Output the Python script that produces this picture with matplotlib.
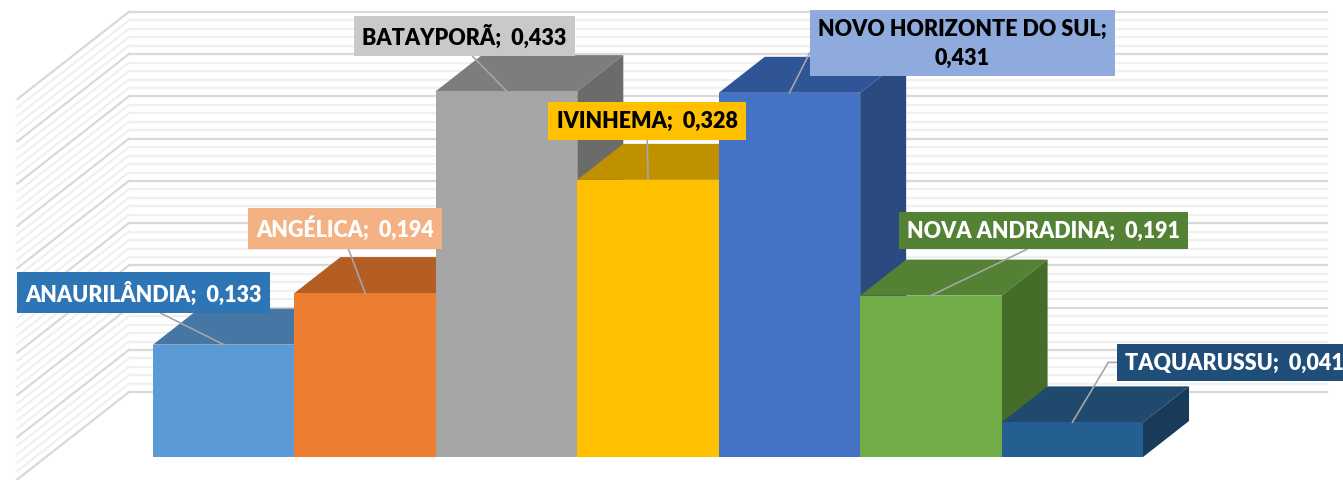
import numpy as np
import matplotlib.pyplot as plt
from matplotlib.patches import Polygon

# dados
cidades = ['ANAURILÂNDIA', 'ANGÉLICA', 'BATAYPORÃ', 'IVINHEMA',
           'NOVO HORIZONTE DO SUL', 'NOVA ANDRADINA', 'TAQUARUSSU']
valores = [0.133, 0.194, 0.433, 0.328, 0.431, 0.191, 0.041]

# cores: frente, topo, lateral
cor_frente = ['#5B9BD5', '#ED7D31', '#A5A5A5', '#FFC000', '#4472C4', '#70AD47', '#255E91']
cor_topo = ['#4676A3', '#B55E23', '#7D7D7D', '#BF9000', '#2F5597', '#548235', '#1F4A6E']
cor_lado = ['#3E6890', '#A0521E', '#6B6B6B', '#A67D00', '#2B4A80', '#466C2A', '#183B5A']
cor_caixa = ['#2E75B6', '#F4B183', '#C9C9C9', '#FFC000', '#8FAADC', '#548235', '#1F4E79']
cor_texto = ['white', 'white', 'black', 'black', 'black', 'white', 'white']

# posicao das caixas de rotulo (pixels a partir do topo da barra)
rot_dx = [-80, -20, -42, -1, 173, 113, 162]
rot_dy = [52, 65, 55, 59, 50, 65, 60]

plt.rcParams['font.family'] = ['Lato', 'DejaVu Sans']

W, H = 1343, 481
fig = plt.figure(figsize=(W / 100, H / 100), dpi=100)
ax = fig.add_axes([0, 0, 1, 1])
ax.axis('off')
xmin, xmax = -1.582, 7.914
ymin, ymax = -0.0272, 0.542
ax.set_xlim(xmin, xmax)
ax.set_ylim(ymin, ymax)

sx = W / (xmax - xmin)
sy = H / (ymax - ymin)
# vetor de profundidade (obliquo)
DX = 46 / sx
DY = 36 / sy

# paredes com grade
XL, XR = -1.257, 7.214
kw, kf = 1.8, -0.62
for v in np.arange(0, 0.4501, 0.01):
    major = round(v * 100) % 5 == 0
    c = '#D9D9D9' if major else '#F0F0F0'
    ax.plot([XL + kw * DX, XR + kw * DX], [v + kw * DY] * 2, color=c, lw=1.6, zorder=2 if major else 1)
    ax.plot([XL + kf * DX, XL + kw * DX], [v + kf * DY, v + kw * DY], color=c, lw=1.6,
            zorder=2 if major else 1)

x = np.arange(len(valores))
barras = ax.bar(x, valores, width=1.0, color=cor_frente, linewidth=0)
for i, (b, v) in enumerate(zip(barras, valores)):
    x0, x1 = i - 0.5, i + 0.5
    z = 10 + 3 * i
    topo = Polygon([(x0, v), (x1, v), (x1 + DX, v + DY), (x0 + DX, v + DY)],
                   closed=True, facecolor=cor_topo[i], edgecolor='none', zorder=z)
    lado = Polygon([(x1, 0), (x1 + DX, DY), (x1 + DX, v + DY), (x1, v)],
                   closed=True, facecolor=cor_lado[i], edgecolor='none', zorder=z)
    ax.add_patch(topo)
    ax.add_patch(lado)
    b.set_zorder(z + 1)

# rotulos
for i, v in enumerate(valores):
    num = f'{v:.3f}'.replace('.', ',')
    if i == 4:
        txt = f'{cidades[i]};\n{num}'
    else:
        txt = f'{cidades[i]};  {num}'
    if i in (4, 6):
        ang = 63 if i == 4 else 59
        arrow = dict(arrowstyle='-', color='#A6A6A6', lw=1.2, relpos=(0, 0.5),
                     shrinkA=0, shrinkB=0,
                     connectionstyle=f'angle,angleA=0,angleB={ang},rad=0')
    else:
        arrow = dict(arrowstyle='-', color='#A6A6A6', lw=1.2, relpos=(0.5, 0),
                     shrinkA=0, shrinkB=0)
    ax.annotate(txt, xy=(i, v), xytext=(rot_dx[i], rot_dy[i]), textcoords='offset pixels',
                ha='center', va='center', fontsize=15.5, fontweight='heavy',
                color=cor_texto[i], linespacing=1.45, zorder=50,
                bbox=dict(boxstyle='square,pad=0.38', fc=cor_caixa[i], ec='none'),
                arrowprops=arrow)

fig.savefig('out.png', dpi=100)
